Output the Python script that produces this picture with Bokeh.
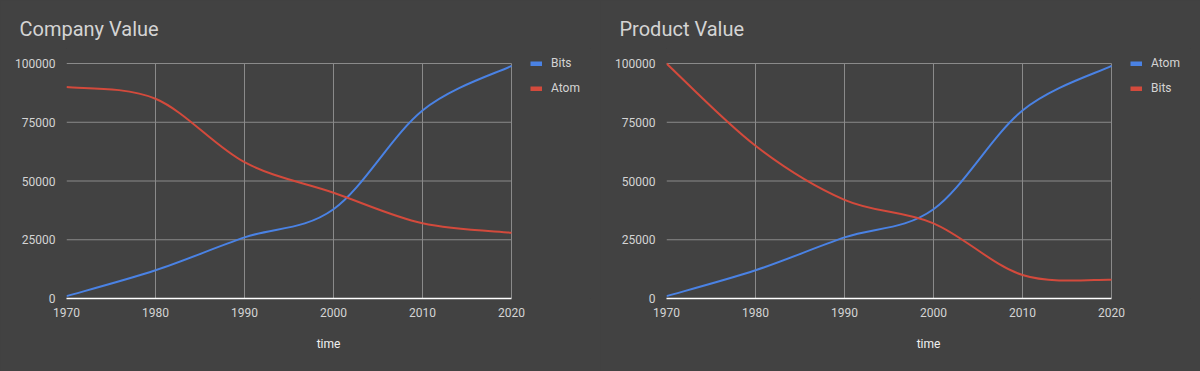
import numpy as np
from bokeh.plotting import figure
from bokeh.models import (Range1d, FixedTicker, BasicTickFormatter, Legend, LegendItem,
                          ColumnDataSource, GlobalInlineStyleSheet)
from bokeh.layouts import row
from bokeh.embed import file_html
from bokeh.resources import INLINE

years = [1970, 1980, 1990, 2000, 2010, 2020]
company_bits = [1000, 12000, 26000, 38000, 80000, 99000]
company_atom = [90000, 85000, 58000, 45000, 32000, 28000]
product_atom = [1000, 12000, 26000, 38000, 80000, 99000]
product_bits = [100000, 65000, 42000, 32000, 10000, 8000]
x_ticks = [1970, 1980, 1990, 2000, 2010, 2020]
y_ticks = [0, 25000, 50000, 75000, 100000]

BG = "#424242"
BLUE = "#4a82e4"
RED = "#d34a3c"
TXT = "#d4d4d4"
GRID = "#8a8a8a"
FONT = "Roboto"

# layout (pixels)
W, H = 600, 371
TOP, BOTTOM, LEFT, RIGHT = 48, 73, 66, 10
DATA_TOP = 63                  # pixel row of the 100000 line
DATA_W, DATA_H = 445, 235      # pixel size of the 1970..2020 x 0..100000 area
FRAME_W = W - LEFT - RIGHT
FRAME_H = H - TOP - BOTTOM
ITEM_H, ITEM_GAP = 14, 11
LEG_H = 2 * ITEM_H + ITEM_GAP


def bezier_source(xs, ys, k=1 / 6):
    x = np.asarray(xs, float)
    y = np.asarray(ys, float)
    xp = np.concatenate([[x[0]], x, [x[-1]]])
    yp = np.concatenate([[y[0]], y, [y[-1]]])
    n = len(x)
    i = np.arange(n - 1)
    return ColumnDataSource(dict(
        x0=x[i], y0=y[i], x1=x[i + 1], y1=y[i + 1],
        cx0=x[i] + k * (xp[i + 2] - xp[i]), cy0=y[i] + k * (yp[i + 2] - yp[i]),
        cx1=x[i + 1] - k * (xp[i + 3] - xp[i + 1]), cy1=y[i + 1] - k * (yp[i + 3] - yp[i + 1]),
    ))


def make_chart(title, series):
    x0, x1 = x_ticks[0], x_ticks[-1]
    y0, y1 = y_ticks[0], y_ticks[-1]
    x_end = x0 + (x1 - x0) * FRAME_W / DATA_W
    y_end = y0 + (y1 - y0) * FRAME_H / DATA_H
    p = figure(width=W, height=H, output_backend="svg", toolbar_location=None,
               x_range=Range1d(x0, x_end), y_range=Range1d(y0, y_end),
               min_border_left=LEFT, min_border_right=RIGHT,
               min_border_top=TOP, min_border_bottom=BOTTOM,
               background_fill_color=BG, border_fill_color=BG, outline_line_color=None)
    p.title.text = title
    p.title.text_font = FONT
    p.title.text_font_size = "20px"
    p.title.text_font_style = "normal"
    p.title.text_color = TXT
    p.title.align = "left"
    p.title.offset = -47
    p.title.standoff = 15

    p.xaxis.ticker = FixedTicker(ticks=x_ticks)
    p.xaxis.bounds = (x0, x1)
    p.yaxis.ticker = FixedTicker(ticks=y_ticks)
    p.yaxis.formatter = BasicTickFormatter(use_scientific=False)
    for ax in (p.xaxis, p.yaxis):
        ax.major_tick_line_color = None
        ax.minor_tick_line_color = None
        ax.major_label_text_font = FONT
        ax.major_label_text_font_size = "12px"
        ax.major_label_text_color = TXT
    p.yaxis.axis_line_color = None
    p.yaxis.major_label_standoff = 5
    p.xaxis.axis_line_color = "#ffffff"
    p.xaxis.axis_line_width = 1.5
    p.xaxis.major_label_standoff = 3
    p.xaxis.axis_label = "time"
    p.xaxis.axis_label_text_font = FONT
    p.xaxis.axis_label_text_font_size = "12px"
    p.xaxis.axis_label_text_font_style = "normal"
    p.xaxis.axis_label_text_color = "#f0f0f0"
    p.xaxis.axis_label_standoff = 17

    # grid lines limited to the data area
    p.xgrid.visible = False
    p.ygrid.visible = False
    vx = x_ticks[1:]
    p.segment(x0=vx, y0=[y0] * len(vx), x1=vx, y1=[y1] * len(vx),
              line_color=GRID, line_width=1)
    hy = y_ticks[1:]
    p.segment(x0=[x0] * len(hy), y0=hy, x1=[x1] * len(hy), y1=hy,
              line_color=GRID, line_width=1)

    items = []
    for name, vals, color in series:
        src = bezier_source(years, vals)
        p.bezier(x0="x0", y0="y0", x1="x1", y1="y1", cx0="cx0", cy0="cy0",
                 cx1="cx1", cy1="cy1", source=src, line_color=color, line_width=2)
        dummy = p.line(x=[np.nan], y=[np.nan], line_color=color, line_width=5)
        items.append(LegendItem(label=name, renderers=[dummy]))

    leg_top = DATA_TOP - TOP - ITEM_H // 2      # from frame top
    legend = Legend(items=items, location=(DATA_W + 19, FRAME_H - leg_top - LEG_H),
                    padding=0, margin=0, spacing=ITEM_GAP,
                    glyph_width=12, glyph_height=5, label_height=ITEM_H,
                    label_standoff=9,
                    label_text_font=FONT, label_text_font_size="12px", label_text_color=TXT,
                    border_line_color=None, background_fill_alpha=0)
    p.add_layout(legend)
    return p


p1 = make_chart("Company Value", [("Bits", company_bits, BLUE), ("Atom", company_atom, RED)])
p2 = make_chart("Product Value", [("Atom", product_atom, BLUE), ("Bits", product_bits, RED)])

layout = row(p1, p2, stylesheets=[GlobalInlineStyleSheet(css="body{background:#424242;}")])
open("out.html", "w").write(file_html(layout, INLINE))
